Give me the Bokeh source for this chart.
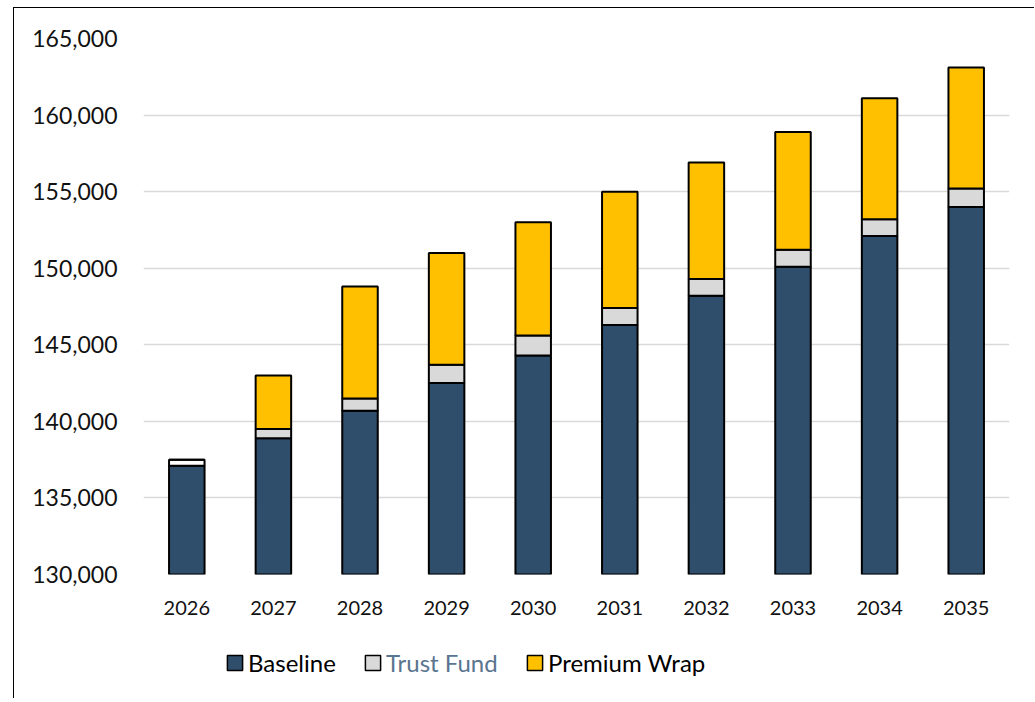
import numpy as np
from bokeh.plotting import figure
from bokeh.layouts import column
from bokeh.models import (ColumnDataSource, FactorRange, Range1d, FixedTicker,
                          NumeralTickFormatter, Legend, LegendItem)
from bokeh.embed import file_html
from bokeh.resources import INLINE

years = ["2026", "2027", "2028", "2029", "2030", "2031", "2032", "2033", "2034", "2035"]
baseline = [137100, 138900, 140700, 142500, 144300, 146300, 148200, 150100, 152100, 154000]
trust_fund = [400, 600, 800, 1200, 1300, 1100, 1100, 1100, 1100, 1200]
premium_wrap = [0, 3500, 7300, 7300, 7400, 7600, 7600, 7700, 7900, 7900]
y_ticks = [130000, 135000, 140000, 145000, 150000, 155000, 160000, 165000]
y_min, y_max = 130000, 165000
series_labels = ["Baseline", "Trust Fund", "Premium Wrap"]

NAVY = "#2E4E6B"
GRAY = "#D9D9D9"
GOLD = "#FFC000"
FONT = "Lato"

b = np.array(baseline, dtype=float)
t = np.array(trust_fund, dtype=float)
w = np.array(premium_wrap, dtype=float)
tf_colors = ["#FFFFFF"] + [GRAY] * (len(years) - 1)

src = ColumnDataSource(dict(
    x=years,
    b0=np.zeros_like(b), b1=b,
    t0=b, t1=b + t,
    w0=b + t, w1=b + t + w,
    tfc=tf_colors,
))

W = 1020
p = figure(
    x_range=FactorRange(*years, range_padding=0),
    y_range=Range1d(y_min, y_max),
    width=W, height=620,
    output_backend="svg", toolbar_location=None,
    min_border_left=129, min_border_right=25,
    min_border_top=30, min_border_bottom=54,
)
p.outline_line_color = None
p.background_fill_color = "white"
p.border_fill_color = "white"

bw = 0.41
p.vbar(x="x", bottom="b0", top="b1", width=bw, source=src,
       fill_color=NAVY, line_color="black", line_width=2)
p.vbar(x="x", bottom="t0", top="t1", width=bw, source=src,
       fill_color="tfc", line_color="black", line_width=2)
p.vbar(x="x", bottom="w0", top="w1", width=bw, source=src,
       fill_color=GOLD, line_color="black", line_width=2)

p.xgrid.grid_line_color = None
p.ygrid.grid_line_color = "#D9D9D9"
p.ygrid.grid_line_width = 1.5
p.ygrid.level = "underlay"

p.yaxis.ticker = FixedTicker(ticks=y_ticks)
p.yaxis.formatter = NumeralTickFormatter(format="0,0")
p.yaxis.axis_line_color = None
p.yaxis.major_tick_line_color = None
p.yaxis.minor_tick_line_color = None
p.yaxis.major_label_standoff = 20
p.yaxis.major_label_text_font = FONT
p.yaxis.major_label_text_font_size = "23px"
p.yaxis.major_label_text_color = "#111111"

p.xaxis.axis_line_color = None
p.xaxis.major_tick_line_color = None
p.xaxis.minor_tick_line_color = None
p.xaxis.major_label_standoff = 20
p.xaxis.major_label_text_font = FONT
p.xaxis.major_label_text_font_size = "20px"
p.xaxis.major_label_text_color = "#111111"

# legend strip
lp = figure(width=W, height=70, x_range=Range1d(0, 1), y_range=Range1d(0, 1),
            output_backend="svg", toolbar_location=None,
            min_border_left=0, min_border_right=0, min_border_top=0, min_border_bottom=0)
lp.axis.visible = False
lp.grid.visible = False
lp.outline_line_color = None
lp.border_fill_color = "white"

legend_fill = [NAVY, GRAY, GOLD]
legend_text = ["#000000", "#5A7590", "#000000"]
legend_x = [82, 220, 382]
for lab, fc, tc, lx in zip(series_labels, legend_fill, legend_text, legend_x):
    dummy = lp.vbar(x=[float("nan")], top=[float("nan")], width=0.1,
                    fill_color=fc, line_color="black", line_width=1.5)
    lg = Legend(items=[LegendItem(label=lab, renderers=[dummy])],
                location=(lx, 21), orientation="horizontal",
                padding=0, margin=0, spacing=0,
                border_line_color=None, background_fill_alpha=0,
                glyph_width=19, glyph_height=19, label_standoff=4,
                label_text_font=FONT, label_text_font_size="24px",
                label_text_color=tc)
    lp.add_layout(lg, "center")

layout = column(p, lp, spacing=0,
                styles={"margin-left": "13px", "margin-top": "7px",
                        "border-left": "1.5px solid #000000",
                        "border-top": "1.5px solid #000000"})

open("out.html", "w").write(file_html(layout, INLINE))
